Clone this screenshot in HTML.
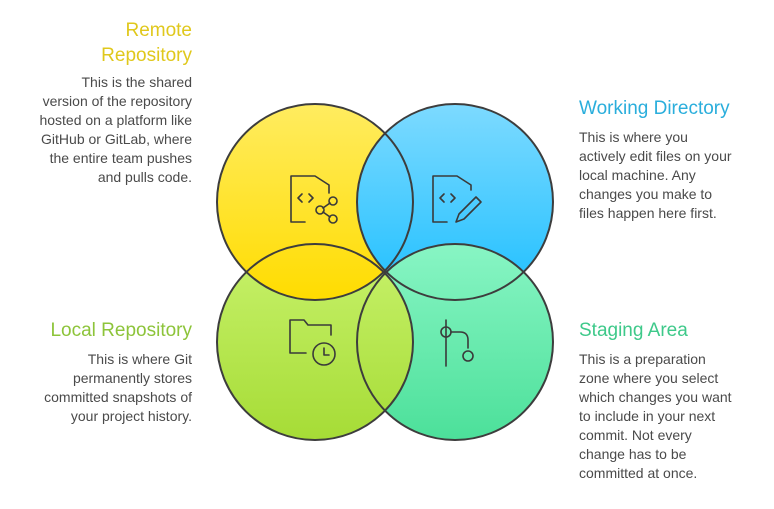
<!DOCTYPE html>
<html><head><meta charset="utf-8"><style>
body{margin:0;width:774px;height:509px;background:#fff;position:relative;overflow:hidden;font-family:"Liberation Sans",sans-serif}
.t{position:absolute;font-size:19px;line-height:25px}
.b{position:absolute;font-size:14px;line-height:19px;color:#4a4a4a}
.l{right:582px;text-align:right}
.r{left:579px}
</style></head><body>
<svg width="774" height="509" style="position:absolute;left:0;top:0">
<defs>
<linearGradient id="gy" x1="0" y1="0" x2="0" y2="1"><stop offset="0" stop-color="#ffec60"/><stop offset="1" stop-color="#ffdc00"/></linearGradient>
<linearGradient id="gb" x1="0" y1="0" x2="0" y2="1"><stop offset="0" stop-color="#7ddaff"/><stop offset="1" stop-color="#1ebfff"/></linearGradient>
<linearGradient id="gl" x1="0" y1="0" x2="0" y2="1"><stop offset="0" stop-color="#c8f26c"/><stop offset="1" stop-color="#a6dc36"/></linearGradient>
<linearGradient id="gg" x1="0" y1="0" x2="0" y2="1"><stop offset="0" stop-color="#88f5c4"/><stop offset="1" stop-color="#4ce09a"/></linearGradient>
<clipPath id="cbl"><circle cx="315" cy="342" r="98"/></clipPath>
</defs>
<circle cx="315" cy="202" r="98" fill="url(#gy)"/>
<circle cx="455" cy="202" r="98" fill="url(#gb)"/>
<circle cx="455" cy="342" r="98" fill="url(#gg)"/>
<circle cx="315" cy="342" r="98" fill="url(#gl)"/>
<circle cx="315" cy="202" r="98" fill="url(#gy)" clip-path="url(#cbl)"/>
<g fill="none" stroke="#3d3d3d" stroke-width="2">
<circle cx="315" cy="202" r="98"/><circle cx="455" cy="202" r="98"/>
<circle cx="315" cy="342" r="98"/><circle cx="455" cy="342" r="98"/>
</g>
<g fill="none" stroke="#3a3a3a" stroke-width="1.6" stroke-linecap="round" stroke-linejoin="round">
<path d="M305 222h-14v-46h24l14 9v8"/><path d="M302 194l-4 4 4 4M309 194l4 4-4 4"/>
<circle cx="333" cy="201" r="4"/><circle cx="320" cy="210" r="4"/><circle cx="333" cy="219" r="4"/><path d="M323 208l7-5M323 212l7 5"/>
<path d="M447 222h-14v-46h24l14 9v5"/><path d="M444 194l-4 4 4 4M451 194l4 4-4 4"/>
<path d="M456 222l3-8 17-17 5 5-17 17z"/>
<path d="M306 353h-16v-33h14l4 5h23v10"/><circle cx="324" cy="354" r="11"/><path d="M324 348v7h5"/>
<path d="M446 320v46"/><circle cx="446" cy="332" r="5"/><path d="M451 332h9q8 0 8 8v8"/><circle cx="468" cy="356" r="5"/>
</g>
</svg>
<div class="t l" style="top:18px;color:#e0c81c">Remote<br>Repository</div>
<div class="b l" style="top:73px">This is the shared<br>version of the repository<br>hosted on a platform like<br>GitHub or GitLab, where<br>the entire team pushes<br>and pulls code.</div>
<div class="t r" style="top:96px;color:#2aaedc">Working Directory</div>
<div class="b r" style="top:128px">This is where you<br>actively edit files on your<br>local machine. Any<br>changes you make to<br>files happen here first.</div>
<div class="t l" style="top:318px;color:#8dc43a">Local Repository</div>
<div class="b l" style="top:350px">This is where Git<br>permanently stores<br>committed snapshots of<br>your project history.</div>
<div class="t r" style="top:318px;color:#3ec98a">Staging Area</div>
<div class="b r" style="top:350px">This is a preparation<br>zone where you select<br>which changes you want<br>to include in your next<br>commit. Not every<br>change has to be<br>committed at once.</div>
</body></html>
